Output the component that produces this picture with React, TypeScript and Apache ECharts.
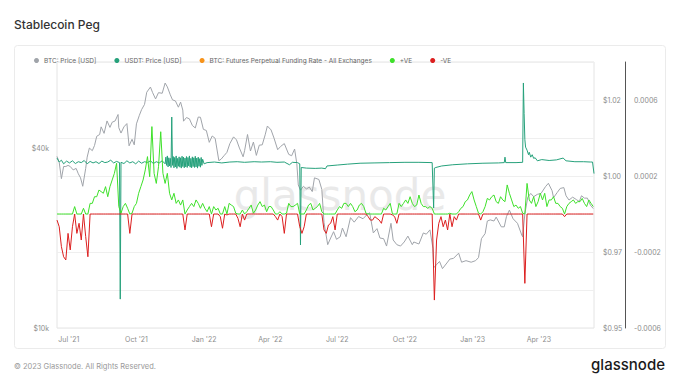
import React, { useEffect, useRef } from 'react';
import * as echarts from 'echarts';

// ---------- data ----------
const START_DATE = '2021-06-15';
const END_DATE = '2023-06-15';
const FUNDING_STEP_DAYS = 3;

const quarterTicks = ['2021-07-01', '2021-10-01', '2022-01-01', '2022-04-01', '2022-07-01', '2022-10-01', '2023-01-01', '2023-04-01'];
const btcTickValues = [10000, 40000];

const btcPrice: [string, number][] = [
  ['2021-06-15', 37500], ['2021-06-18', 35800], ['2021-06-21', 31600], ['2021-06-24', 34700], ['2021-06-27', 34700],
  ['2021-06-30', 35000], ['2021-07-03', 34700], ['2021-07-07', 33800], ['2021-07-11', 34200], ['2021-07-14', 32800],
  ['2021-07-17', 31800], ['2021-07-20', 29800], ['2021-07-24', 34200], ['2021-07-26', 37300], ['2021-07-29', 40000],
  ['2021-08-02', 39200], ['2021-08-05', 40800], ['2021-08-08', 43800], ['2021-08-12', 44400], ['2021-08-14', 47100],
  ['2021-08-18', 44800], ['2021-08-22', 49300], ['2021-08-26', 46900], ['2021-08-29', 48800], ['2021-09-02', 49300],
  ['2021-09-06', 51800], ['2021-09-07', 46800], ['2021-09-10', 44900], ['2021-09-14', 47100], ['2021-09-18', 48300],
  ['2021-09-21', 40700], ['2021-09-25', 42800], ['2021-09-28', 41000], ['2021-10-01', 48200], ['2021-10-05', 51500],
  ['2021-10-08', 53800], ['2021-10-12', 56000], ['2021-10-15', 61500], ['2021-10-20', 64000], ['2021-10-23', 61300],
  ['2021-10-27', 58400], ['2021-10-31', 61300], ['2021-11-05', 61000], ['2021-11-09', 66000], ['2021-11-12', 64100],
  ['2021-11-16', 60300], ['2021-11-19', 58000], ['2021-11-23', 57500], ['2021-11-27', 54800], ['2021-11-30', 57000],
  ['2021-12-03', 53600], ['2021-12-04', 49200], ['2021-12-08', 50600], ['2021-12-12', 50100], ['2021-12-16', 47600],
  ['2021-12-20', 46700], ['2021-12-24', 50800], ['2021-12-27', 50700], ['2021-12-31', 46200], ['2022-01-04', 45800],
  ['2022-01-08', 41800], ['2022-01-12', 43900], ['2022-01-16', 43100], ['2022-01-21', 36300], ['2022-01-24', 36700],
  ['2022-01-28', 37700], ['2022-02-01', 38700], ['2022-02-05', 41400], ['2022-02-10', 43600], ['2022-02-14', 42600],
  ['2022-02-18', 40000], ['2022-02-23', 37400], ['2022-02-25', 39200], ['2022-03-01', 44400], ['2022-03-05', 39100],
  ['2022-03-09', 41900], ['2022-03-13', 37800], ['2022-03-17', 40900], ['2022-03-21', 41000], ['2022-03-25', 44300],
  ['2022-03-28', 47400], ['2022-04-02', 46000], ['2022-04-06', 43200], ['2022-04-11', 39500], ['2022-04-15', 40500],
  ['2022-04-20', 41400], ['2022-04-26', 38100], ['2022-04-30', 37700], ['2022-05-04', 39700], ['2022-05-07', 35500],
  ['2022-05-09', 30100], ['2022-05-12', 28900], ['2022-05-16', 29800], ['2022-05-20', 29200], ['2022-05-24', 29600],
  ['2022-05-28', 28600], ['2022-05-31', 31800], ['2022-06-06', 31400], ['2022-06-10', 29100], ['2022-06-13', 22500],
  ['2022-06-18', 19000], ['2022-06-22', 20000], ['2022-06-26', 21000], ['2022-06-30', 19800], ['2022-07-05', 20200],
  ['2022-07-08', 21600], ['2022-07-13', 20200], ['2022-07-19', 23400], ['2022-07-24', 22600], ['2022-07-30', 23600],
  ['2022-08-05', 23200], ['2022-08-10', 23900], ['2022-08-14', 24300], ['2022-08-19', 20800], ['2022-08-24', 21500],
  ['2022-08-28', 20000], ['2022-09-02', 19900], ['2022-09-06', 18800], ['2022-09-12', 22400], ['2022-09-15', 19700],
  ['2022-09-20', 19000], ['2022-09-25', 18800], ['2022-09-30', 19400], ['2022-10-05', 20300], ['2022-10-11', 19000],
  ['2022-10-13', 19400], ['2022-10-20', 19100], ['2022-10-26', 20800], ['2022-10-30', 20600], ['2022-11-04', 21300],
  ['2022-11-08', 18500], ['2022-11-09', 15900], ['2022-11-13', 16300], ['2022-11-17', 16700], ['2022-11-21', 15800],
  ['2022-11-27', 16500], ['2022-12-01', 17000], ['2022-12-06', 17100], ['2022-12-13', 17800], ['2022-12-17', 16600],
  ['2022-12-23', 16800], ['2022-12-30', 16600], ['2023-01-05', 16800], ['2023-01-09', 17200], ['2023-01-13', 19900],
  ['2023-01-18', 20700], ['2023-01-21', 22800], ['2023-01-25', 23000], ['2023-01-30', 22800], ['2023-02-02', 23500],
  ['2023-02-09', 21800], ['2023-02-13', 21800], ['2023-02-16', 23600], ['2023-02-20', 24800], ['2023-02-25', 23200],
  ['2023-03-03', 22400], ['2023-03-09', 20400], ['2023-03-10', 20200], ['2023-03-13', 24100], ['2023-03-17', 27400],
  ['2023-03-21', 28200], ['2023-03-25', 27500], ['2023-03-30', 28000], ['2023-04-04', 28200], ['2023-04-10', 29700],
  ['2023-04-14', 30500], ['2023-04-19', 28800], ['2023-04-21', 27300], ['2023-04-26', 28400], ['2023-04-30', 29300],
  ['2023-05-05', 29500], ['2023-05-08', 27700], ['2023-05-12', 26800], ['2023-05-17', 27400], ['2023-05-22', 26900],
  ['2023-05-26', 26500], ['2023-05-29', 27700], ['2023-06-02', 27200], ['2023-06-06', 27200], ['2023-06-10', 25800],
  ['2023-06-14', 25100],
];

const usdtPrice: [string, number][] = [
  ['2021-06-15', 1.0059], ['2021-06-18', 1.0046], ['2021-06-21', 1.0052], ['2021-06-24', 1.0040], ['2021-06-28', 1.0049],
  ['2021-07-02', 1.0043], ['2021-07-06', 1.0050], ['2021-07-10', 1.0041], ['2021-07-14', 1.0047], ['2021-07-18', 1.0044],
  ['2021-07-22', 1.0051], ['2021-07-26', 1.0040], ['2021-07-30', 1.0048], ['2021-08-03', 1.0043], ['2021-08-07', 1.0047],
  ['2021-08-11', 1.0041], ['2021-08-15', 1.0049], ['2021-08-19', 1.0044], ['2021-08-23', 1.0046], ['2021-08-27', 1.0052],
  ['2021-08-31', 1.0043], ['2021-09-04', 1.0048], ['2021-09-08', 1.0044], ['2021-09-09', 0.9595], ['2021-09-10', 1.0045],
  ['2021-09-14', 1.0041], ['2021-09-18', 1.0050], ['2021-09-22', 1.0043], ['2021-09-26', 1.0047], ['2021-09-30', 1.0040],
  ['2021-10-04', 1.0049], ['2021-10-08', 1.0042], ['2021-10-12', 1.0047], ['2021-10-16', 1.0044], ['2021-10-20', 1.0050],
  ['2021-10-24', 1.0041], ['2021-10-28', 1.0047], ['2021-11-01', 1.0043], ['2021-11-05', 1.0050], ['2021-11-09', 1.0040],
  ['2021-11-10', 1.0062], ['2021-11-11', 1.0035], ['2021-11-12', 1.0066], ['2021-11-13', 1.0030], ['2021-11-14', 1.0060],
  ['2021-11-15', 1.0033], ['2021-11-16', 1.0058], ['2021-11-17', 1.0028], ['2021-11-18', 1.0194], ['2021-11-19', 1.0035],
  ['2021-11-20', 1.0064], ['2021-11-21', 1.0027], ['2021-11-22', 1.0061], ['2021-11-23', 1.0030], ['2021-11-24', 1.0066],
  ['2021-11-25', 1.0025], ['2021-11-26', 1.0058], ['2021-11-27', 1.0032], ['2021-11-28', 1.0063], ['2021-11-29', 1.0029],
  ['2021-11-30', 1.0060], ['2021-12-01', 1.0026], ['2021-12-02', 1.0065], ['2021-12-03', 1.0031], ['2021-12-04', 1.0062],
  ['2021-12-05', 1.0027], ['2021-12-06', 1.0059], ['2021-12-07', 1.0030], ['2021-12-08', 1.0064], ['2021-12-09', 1.0028],
  ['2021-12-10', 1.0061], ['2021-12-11', 1.0033], ['2021-12-12', 1.0066], ['2021-12-13', 1.0029], ['2021-12-14', 1.0058],
  ['2021-12-15', 1.0027], ['2021-12-16', 1.0063], ['2021-12-17', 1.0031], ['2021-12-18', 1.0060], ['2021-12-19', 1.0028],
  ['2021-12-20', 1.0065], ['2021-12-21', 1.0030], ['2021-12-22', 1.0059], ['2021-12-23', 1.0026], ['2021-12-24', 1.0062],
  ['2021-12-25', 1.0032], ['2021-12-26', 1.0057], ['2021-12-27', 1.0029], ['2021-12-28', 1.0061], ['2021-12-29', 1.0035],
  ['2021-12-30', 1.0055], ['2022-01-01', 1.0040], ['2022-01-05', 1.0044], ['2022-01-15', 1.0046], ['2022-01-25', 1.0043],
  ['2022-02-05', 1.0046], ['2022-02-15', 1.0047], ['2022-02-25', 1.0045], ['2022-03-10', 1.0047], ['2022-03-20', 1.0046],
  ['2022-04-01', 1.0047], ['2022-04-10', 1.0045], ['2022-04-20', 1.0046], ['2022-04-27', 1.0037], ['2022-05-01', 1.0045],
  ['2022-05-08', 1.0044], ['2022-05-11', 1.0040], ['2022-05-12', 0.9773], ['2022-05-13', 1.0028], ['2022-05-20', 1.0026],
  ['2022-06-01', 1.0025], ['2022-06-10', 1.0026], ['2022-06-15', 1.0024], ['2022-06-17', 1.0033], ['2022-07-01', 1.0036],
  ['2022-07-15', 1.0039], ['2022-08-01', 1.0042], ['2022-08-20', 1.0043], ['2022-09-10', 1.0044], ['2022-10-01', 1.0045],
  ['2022-10-20', 1.0045], ['2022-11-07', 1.0044], ['2022-11-09', 0.9895], ['2022-11-10', 1.0026], ['2022-11-12', 1.0028],
  ['2022-11-20', 1.0033], ['2022-12-05', 1.0037], ['2022-12-25', 1.0040], ['2023-01-15', 1.0042], ['2023-02-05', 1.0043],
  ['2023-02-13', 1.0044], ['2023-02-14', 1.0062], ['2023-02-15', 1.0044], ['2023-03-01', 1.0044], ['2023-03-10', 1.0045],
  ['2023-03-11', 1.0306], ['2023-03-12', 1.0206], ['2023-03-13', 1.0120], ['2023-03-14', 1.0095], ['2023-03-16', 1.0085],
  ['2023-03-18', 1.0070], ['2023-03-19', 1.0078], ['2023-03-21', 1.0062], ['2023-03-23', 1.0070], ['2023-03-25', 1.0058],
  ['2023-03-27', 1.0060], ['2023-03-30', 1.0050], ['2023-04-05', 1.0054], ['2023-04-15', 1.0051], ['2023-04-25', 1.0053],
  ['2023-05-04', 1.0059], ['2023-05-08', 1.0050], ['2023-05-20', 1.0047], ['2023-06-01', 1.0047], ['2023-06-10', 1.0046],
  ['2023-06-13', 1.0046], ['2023-06-15', 1.0008],
];

// BTC perpetual funding rate, one value every FUNDING_STEP_DAYS days from START_DATE
const fundingRate: number[] = [
  -3.2e-5, -6.7e-5, -17.2e-5, -22.5e-5, -24.2e-5, -10.2e-5, -18.9e-5, -6.7e-5, 3.9e-5, -10.2e-5,
  -4.9e-5, -13.7e-5, 3.0e-5, -11.9e-5, -22.5e-5, 5.6e-5, 5.6e-5, 9.1e-5, 9.1e-5, 12.6e-5,
  11.8e-5, 10.9e-5, 14.4e-5, 9.1e-5, 14.4e-5, 17.9e-5, 21.4e-5, 26.7e-5, 3.9e-5, 0.4e-5,
  3.9e-5, 5.6e-5, 3.0e-5, -10.2e-5, 0.4e-5, 3.9e-5, 5.6e-5, 10.9e-5, 14.4e-5, 17.9e-5,
  23.2e-5, 30.2e-5, 19.6e-5, 46.0e-5, 21.4e-5, 16.1e-5, 24.9e-5, 43.3e-5, 21.4e-5, 16.1e-5,
  21.4e-5, 10.9e-5, 7.4e-5, 10.9e-5, 5.6e-5, 7.4e-5, 4.7e-5, 7.4e-5, -8.4e-5, 2.1e-5,
  3.9e-5, 5.6e-5, 3.9e-5, 7.4e-5, 5.6e-5, 3.0e-5, 5.6e-5, 3.0e-5, 1.2e-5, 3.9e-5,
  -6.7e-5, 3.9e-5, 2.1e-5, 3.0e-5, -1.4e-5, -7.5e-5, 3.9e-5, -0.5e-5, 5.6e-5, 4.7e-5,
  3.9e-5, 0.4e-5, -2.3e-5, -6.7e-5, 2.1e-5, -3.2e-5, 1.2e-5, 3.0e-5, 4.7e-5, 0.4e-5,
  2.1e-5, 4.7e-5, 6.5e-5, 3.9e-5, 4.7e-5, 1.2e-5, 3.9e-5, 3.9e-5, 2.1e-5, -1.4e-5,
  -3.2e-5, 1.2e-5, -1.4e-5, -10.2e-5, 0.4e-5, 5.6e-5, 3.9e-5, 3.9e-5, 4.7e-5, 5.6e-5,
  -6.7e-5, -10.2e-5, -6.7e-5, 2.1e-5, 4.7e-5, 5.6e-5, 2.1e-5, 3.0e-5, 3.9e-5, 5.6e-5,
  1.2e-5, -8.4e-5, -10.2e-5, -5.8e-5, -4.9e-5, -1.4e-5, -8.4e-5, 2.1e-5, 3.9e-5, 3.0e-5,
  5.6e-5, 5.6e-5, 3.9e-5, 5.6e-5, 3.9e-5, 1.2e-5, 2.1e-5, 4.7e-5, 5.6e-5, 3.9e-5,
  0.4e-5, -1.4e-5, -3.2e-5, -3.2e-5, -1.4e-5, -2.3e-5, -3.2e-5, -4.9e-5, 3.0e-5, 2.1e-5,
  3.9e-5, 5.6e-5, -0.5e-5, -1.4e-5, -4.9e-5, 5.6e-5, 3.9e-5, 5.6e-5, 7.4e-5, 5.6e-5,
  9.1e-5, 5.6e-5, 3.9e-5, 4.7e-5, 10.0e-5, 5.6e-5, 3.9e-5, 3.9e-5, 3.0e-5, 3.9e-5,
  3.0e-5, -45.3e-5, -13.7e-5, -4.9e-5, -1.4e-5, -6.7e-5, -3.2e-5, -8.4e-5, 0.4e-5, -6.7e-5,
  -1.4e-5, -3.2e-5, 1.2e-5, 3.0e-5, 3.9e-5, 6.5e-5, 7.4e-5, 10.0e-5, 11.8e-5, 7.4e-5,
  3.9e-5, 0.4e-5, -3.2e-5, 1.2e-5, 3.9e-5, 8.2e-5, 7.4e-5, 9.1e-5, 10.0e-5, 6.5e-5,
  5.6e-5, 9.1e-5, 7.4e-5, 6.5e-5, 15.3e-5, 10.9e-5, 7.4e-5, 3.9e-5, 4.7e-5, 3.0e-5,
  3.9e-5, 0.4e-5, -36.5e-5, 16.1e-5, 7.4e-5, 5.6e-5, 9.1e-5, 3.9e-5, 6.5e-5, 10.9e-5,
  7.4e-5, 10.9e-5, 3.9e-5, 7.4e-5, 7.4e-5, 9.1e-5, 5.6e-5, 5.6e-5, 3.9e-5, 3.0e-5,
  -1.4e-5, 3.9e-5, 5.6e-5, 6.5e-5, 7.4e-5, 5.6e-5, 6.5e-5, 6.5e-5, 8.2e-5, 5.6e-5,
  3.9e-5, 7.4e-5, 5.6e-5, 3.9e-5,
];

// ---------- helpers ----------
const MONTHS = ['Jan', 'Feb', 'Mar', 'Apr', 'May', 'Jun', 'Jul', 'Aug', 'Sep', 'Oct', 'Nov', 'Dec'];
const DAY_MS = 86400000;
const toTs = (s: string) => {
  const [y, m, d] = s.split('-').map(Number);
  return Date.UTC(y, m - 1, d);
};

const FONT = 'Inter, "Noto Sans", sans-serif';
const LABEL_COLOR = '#8d8d8d';

export default function App() {
  const ref = useRef<HTMLDivElement>(null);

  useEffect(() => {
    if (!ref.current) return;
    const chart = echarts.init(ref.current, undefined, { renderer: 'svg' });
    const startTs = toTs(START_DATE);
    const fundingPoints = fundingRate.map((f, i) => [startTs + i * FUNDING_STEP_DAYS * DAY_MS, f]);

    const option: any = {
      animation: false,
      backgroundColor: '#ffffff',
      textStyle: { fontFamily: FONT },
      grid: {
        left: 57,
        top: 62,
        width: 537,
        height: 266,
        show: true,
        borderColor: '#e4e4e4',
        borderWidth: 1,
      },
      legend: {
        left: 29,
        top: 52,
        icon: 'circle',
        itemWidth: 5,
        itemHeight: 5,
        itemGap: 18,
        textStyle: { fontSize: 6.5, color: '#666', fontFamily: FONT },
        data: ['BTC: Price [USD]', 'USDT: Price [USD]', 'BTC: Futures Perpetual Funding Rate - All Exchanges', '+VE', '-VE'],
      },
      graphic: [
        {
          type: 'rect',
          z: 0,
          shape: { x: 14.5, y: 45.5, width: 651, height: 303, r: 3 },
          style: { fill: 'rgba(0,0,0,0)', stroke: '#ebebeb', lineWidth: 1 },
        },
        {
          type: 'text',
          x: 14,
          y: 24,
          style: { text: 'Stablecoin Peg', font: `500 12px ${FONT}`, fill: '#333', verticalAlign: 'middle' },
        },
        {
          type: 'text',
          x: 340,
          y: 195,
          z: 0,
          style: {
            text: 'glassnode',
            font: '500 42px "DejaVu Sans", sans-serif',
            fill: '#e9e9e9',
            align: 'center',
            verticalAlign: 'middle',
          },
        },
        {
          type: 'text',
          x: 14,
          y: 366,
          style: { text: '© 2023 Glassnode. All Rights Reserved.', font: `7.5px ${FONT}`, fill: '#999', verticalAlign: 'middle' },
        },
        {
          type: 'text',
          x: 665,
          y: 364,
          style: {
            text: 'glassnode',
            font: `500 15px ${FONT}`,
            fill: '#1a1a1a',
            align: 'right',
            verticalAlign: 'middle',
          },
        },
      ],
      xAxis: {
        type: 'value',
        min: toTs(START_DATE),
        max: toTs(END_DATE),
        axisLine: { show: false },
        axisTick: { show: false },
        splitLine: { show: false },
        axisLabel: {
          customValues: quarterTicks.map(toTs),
          fontSize: 7,
          color: LABEL_COLOR,
          margin: 8,
          formatter: (v: number) => {
            const d = new Date(v);
            return `${MONTHS[d.getUTCMonth()]} '${String(d.getUTCFullYear()).slice(2)}`;
          },
        },
      },
      yAxis: [
        {
          type: 'value',
          position: 'left',
          min: 4,
          max: 4.89,
          axisLine: { show: false },
          axisTick: { show: false },
          splitLine: { show: false },
          axisLabel: {
            customValues: btcTickValues.map((v) => Math.log10(v)),
            fontSize: 7,
            color: LABEL_COLOR,
            margin: 8,
            formatter: (v: number) => `$${Math.round(Math.pow(10, v) / 1000)}k`,
          },
        },
        {
          type: 'value',
          position: 'right',
          min: 0.95,
          max: 1.0375,
          interval: 0.0125,
          axisLine: { show: false },
          axisTick: { show: false },
          splitLine: { show: true, lineStyle: { color: '#efefef', width: 1 } },
          axisLabel: {
            fontSize: 7,
            color: LABEL_COLOR,
            margin: 9,
            formatter: (v: number) => {
              const n = Math.round((v - 0.95) / 0.0125);
              if (n % 2 !== 0) return '';
              return '$' + (Math.floor(v * 100 + 1e-6) / 100).toFixed(2);
            },
          },
        },
        {
          type: 'value',
          position: 'right',
          offset: 31,
          min: -0.0006,
          max: 0.0008,
          interval: 0.0002,
          axisLine: { show: true, onZero: false, lineStyle: { color: '#555', width: 1 } },
          axisTick: { show: false },
          splitLine: { show: false },
          axisLabel: {
            fontSize: 7,
            color: LABEL_COLOR,
            margin: 9,
            formatter: (v: number) => {
              const n = Math.round(v * 1e4);
              if (Math.abs(n) % 4 !== 2) return '';
              return v.toFixed(4);
            },
          },
        },
      ],
      series: [
        {
          name: 'BTC: Price [USD]',
          type: 'line',
          yAxisIndex: 0,
          showSymbol: false,
          color: '#a0a4aa',
          lineStyle: { width: 1, color: '#a0a4aa' },
          data: btcPrice.map(([d, p]) => [toTs(d), Math.log10(p)]),
        },
        {
          name: 'USDT: Price [USD]',
          type: 'line',
          yAxisIndex: 1,
          showSymbol: false,
          color: '#26a17b',
          lineStyle: { width: 1, color: '#26a17b' },
          data: usdtPrice.map(([d, p]) => [toTs(d), p]),
        },
        {
          name: 'BTC: Futures Perpetual Funding Rate - All Exchanges',
          type: 'line',
          yAxisIndex: 2,
          showSymbol: false,
          color: '#f7931a',
          lineStyle: { width: 1, opacity: 0 },
          data: fundingPoints,
        },
        {
          name: '+VE',
          type: 'line',
          yAxisIndex: 2,
          showSymbol: false,
          color: '#3ee02a',
          lineStyle: { width: 1, color: '#3ee02a' },
          data: fundingPoints.map(([t, f]) => [t, Math.max(f, 0)]),
        },
        {
          name: '-VE',
          type: 'line',
          yAxisIndex: 2,
          showSymbol: false,
          color: '#dc1f1f',
          lineStyle: { width: 1, color: '#dc1f1f' },
          data: fundingPoints.map(([t, f]) => [t, Math.min(f, 0)]),
        },
      ],
    };

    chart.setOption(option);
    return () => chart.dispose();
  }, []);

  return (
    <div
      ref={ref}
      style={{ position: 'fixed', left: 0, top: 0, width: 680, height: 383, background: '#fff' }}
    />
  );
}
